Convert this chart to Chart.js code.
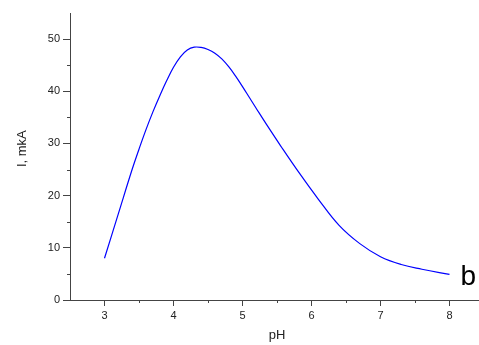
<!DOCTYPE html>
<html>
<head>
<meta charset="utf-8">
<script src="https://cdn.jsdelivr.net/npm/chart.js@4/dist/chart.umd.min.js"></script>
<style>
  html, body { margin: 0; padding: 0; background: #fff; overflow: hidden; }
  #wrap { width: 490px; height: 345px; }
</style>
</head>
<body>
<div id="wrap"><canvas id="ph-curve" width="490" height="345"></canvas></div>
<script>
// curve
var phValues = [3.0, 3.2, 3.4, 3.5, 3.6, 3.7, 3.8, 3.9, 4.0, 4.1, 4.2, 4.3, 4.4, 4.5, 4.6, 4.7, 4.8, 4.9, 5.0, 5.1, 5.2, 5.35, 5.55, 5.83, 6.1, 6.4, 6.7, 7.0, 7.3, 7.6, 8.0];
var currentValues = [8.0, 16.5, 25.0, 28.9, 32.6, 36.0, 39.1, 42.0, 44.6, 46.6, 47.9, 48.45, 48.4, 48.0, 47.3, 46.2, 44.7, 42.9, 40.9, 38.8, 36.7, 33.6, 29.6, 24.2, 19.3, 14.3, 10.8, 8.3, 6.8, 5.9, 4.9];

var xTicks = [3, 4, 5, 6, 7, 8];
var xMinorTicks = [3.5, 4.5, 5.5, 6.5, 7.5];
var yTicks = [0, 10, 20, 30, 40, 50];
var yMinorTicks = [5, 15, 25, 35, 45];
var curveLabel = "b";
var yTitle = "I, mkA";

var axisColor = '#444';
var fontFamily = "'Liberation Sans', Arial, sans-serif";
var font = { family: fontFamily, size: 11 };

var extras = {
  id: 'extras',
  afterDraw: function (chart) {
    var ctx = chart.ctx, xs = chart.scales.x, ys = chart.scales.y;
    ctx.save();
    ctx.strokeStyle = axisColor;
    ctx.lineWidth = 1;
    ctx.beginPath();
    xMinorTicks.forEach(function (v) {
      var px = Math.round(xs.getPixelForValue(v)) + 0.5;
      ctx.moveTo(px, ys.bottom);
      ctx.lineTo(px, ys.bottom + 3);
    });
    yMinorTicks.forEach(function (v) {
      var py = Math.round(ys.getPixelForValue(v)) + 0.5;
      ctx.moveTo(xs.left, py);
      ctx.lineTo(xs.left - 3, py);
    });
    ctx.stroke();

    // y axis title
    ctx.fillStyle = '#222';
    ctx.font = "13px " + fontFamily;
    ctx.textAlign = 'center';
    ctx.textBaseline = 'middle';
    ctx.translate(22, ys.getPixelForValue(29));
    ctx.rotate(-Math.PI / 2);
    ctx.fillText(yTitle, 0, 0);
    ctx.setTransform(1, 0, 0, 1, 0, 0);

    // curve label next to the last point
    var last = phValues.length - 1;
    ctx.fillStyle = '#000';
    ctx.font = "28px " + fontFamily;
    ctx.textAlign = 'left';
    ctx.textBaseline = 'alphabetic';
    ctx.fillText(curveLabel, xs.getPixelForValue(phValues[last]) + 11, ys.getPixelForValue(currentValues[last]) + 11);
    ctx.restore();
  }
};

var data = {
  datasets: [{
    data: phValues.map(function (x, i) { return { x: x, y: currentValues[i] }; }),
    borderColor: '#0000ff',
    borderWidth: 1.2,
    pointRadius: 0,
    fill: false,
    tension: 0.4
  }]
};

new Chart(document.getElementById('ph-curve'), {
  type: 'line',
  data: data,
  plugins: [extras],
  options: {
    responsive: false,
    animation: false,
    layout: { padding: { top: 13, right: 6, left: 0, bottom: 0 } },
    plugins: { legend: { display: false }, tooltip: { enabled: false } },
    scales: {
      x: {
        type: 'linear',
        min: 2.5,
        max: 8.5,
        afterBuildTicks: function (s) { s.ticks = xTicks.map(function (v) { return { value: v }; }); },
        afterFit: function (s) { s.height = 45; },
        border: { display: true, color: axisColor, width: 1 },
        grid: { drawOnChartArea: false, drawTicks: true, tickLength: 6, color: axisColor },
        ticks: { color: '#222', font: font, padding: 3, maxRotation: 0 },
        title: { display: true, text: 'pH', color: '#222', font: { family: fontFamily, size: 13 }, padding: { top: 0, bottom: 2 } }
      },
      y: {
        min: 0,
        max: 55,
        afterBuildTicks: function (s) { s.ticks = yTicks.map(function (v) { return { value: v }; }); },
        afterFit: function (s) { s.width = 70; },
        border: { display: true, color: axisColor, width: 1 },
        grid: { drawOnChartArea: false, drawTicks: true, tickLength: 7, color: axisColor },
        ticks: { color: '#222', font: font, padding: 3 },
        title: { display: false }
      }
    }
  }
});
</script>
</body>
</html>
